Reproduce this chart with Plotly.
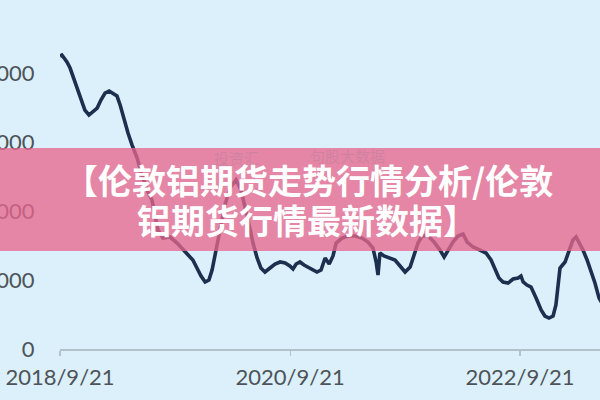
import plotly.graph_objects as go

# Data
dates = [
    "2018-09-21", "2018-09-27", "2018-10-04", "2018-10-13", "2018-10-23", "2018-11-08",
    "2018-11-24", "2018-12-09", "2018-12-22", "2019-01-04", "2019-01-17", "2019-01-29",
    "2019-02-11", "2019-02-24", "2019-03-08", "2019-03-21", "2019-03-31", "2019-04-12",
    "2019-04-25", "2019-05-08", "2019-05-24", "2019-06-08", "2019-06-27", "2019-07-10",
    "2019-07-20", "2019-07-29", "2019-08-14", "2019-09-05", "2019-09-28", "2019-10-17",
    "2019-11-02", "2019-11-17", "2019-11-30", "2019-12-13", "2019-12-26", "2020-01-07",
    "2020-01-17", "2020-01-26", "2020-02-05", "2020-02-14", "2020-02-27", "2020-03-14",
    "2020-04-02", "2020-04-18", "2020-05-04", "2020-05-16", "2020-05-26", "2020-06-08",
    "2020-06-20", "2020-07-03", "2020-07-19", "2020-08-04", "2020-08-20", "2020-09-05",
    "2020-09-20", "2020-09-30", "2020-10-10", "2020-10-22", "2020-11-04", "2020-11-17",
    "2020-12-03", "2020-12-15", "2020-12-28", "2021-01-10", "2021-01-23", "2021-02-04",
    "2021-02-14", "2021-03-05", "2021-03-24", "2021-04-15", "2021-05-07", "2021-05-26",
    "2021-06-11", "2021-06-21", "2021-06-27", "2021-07-03", "2021-07-16", "2021-08-01",
    "2021-08-20", "2021-09-05", "2021-09-21", "2021-10-07", "2021-10-19", "2021-11-01",
    "2021-11-14", "2021-12-03", "2021-12-22", "2022-01-10", "2022-01-23", "2022-02-04",
    "2022-02-20", "2022-03-08", "2022-03-24", "2022-04-06", "2022-04-25", "2022-05-17",
    "2022-06-05", "2022-06-21", "2022-07-04", "2022-07-16", "2022-07-29", "2022-08-14",
    "2022-08-30", "2022-09-15", "2022-09-24", "2022-10-01", "2022-10-13", "2022-10-26",
    "2022-11-11", "2022-11-27", "2022-12-09", "2022-12-22", "2023-01-04", "2023-01-13",
    "2023-01-20", "2023-01-26", "2023-02-11", "2023-02-24", "2023-03-08", "2023-03-18",
    "2023-03-27", "2023-04-09", "2023-04-22", "2023-05-04", "2023-05-17", "2023-05-30",
    "2023-06-12",
]
values = [
    4246, 4260, 4217, 4159, 4072, 3855,
    3637, 3463, 3391, 3449, 3492, 3608,
    3710, 3739, 3710, 3666, 3536, 3318,
    3130, 2956, 2768, 2521, 2275, 2159,
    1942, 1724, 1608, 1623, 1536, 1434,
    1362, 1290, 1174, 1058, 971, 1000,
    1145, 1362, 1579, 1797, 2087, 2333,
    2449, 2304, 2014, 1753, 1536, 1319,
    1174, 1116, 1174, 1232, 1261, 1246,
    1203, 1159, 1232, 1261, 1217, 1188,
    1145, 1116, 1145, 1319, 1232, 1348,
    1536, 1608, 1637, 1637, 1608, 1550,
    1463, 1261, 1072, 1391, 1348, 1319,
    1290, 1203, 1116, 1188, 1362, 1536,
    1637, 1637, 1550, 1434, 1333, 1434,
    1550, 1637, 1666, 1550, 1478, 1434,
    1391, 1290, 1145, 1029, 971, 956,
    1014, 1029, 1058, 971, 927, 898,
    739, 565, 478, 449, 478, 638,
    927, 1174, 1261, 1434, 1579, 1623,
    1550, 1434, 1290, 1145, 956, 739,
    638,
]
x_tick_vals = ["2018-09-21", "2020-09-21", "2022-09-21"]
x_tick_text = ["2018/9/21", "2020/9/21", "2022/9/21"]
y_tick_vals = [0, 1000, 2000, 3000, 4000, 5000]
y_tick_text = ["0", "1000", "2000", "3000", "4000", "5000"]
title_line1 = "【伦敦铝期货走势行情分析/伦敦"
title_line2 = "铝期货行情最新数据】"

BG = "#dcf0fb"
W, H = 600, 400
ML, MR, MT, MB = 60, 0, 0, 51
PW, PH = W - ML - MR, H - MT - MB


def px_x(p):
    return (p - ML) / PW


def px_y(p):
    return (H - MB - p) / PH


fig = go.Figure()
fig.add_trace(go.Scatter(
    x=dates, y=values, mode="lines",
    line=dict(color="#1c2f4f", width=3.6),
    hoverinfo="skip", showlegend=False,
))

fig.update_layout(
    template="none",
    width=W, height=H,
    margin=dict(l=ML, r=MR, t=MT, b=MB, pad=0),
    paper_bgcolor=BG, plot_bgcolor=BG,
    font=dict(family="Lato, 'DejaVu Sans', sans-serif", color="#4d5358"),
    xaxis=dict(
        type="date",
        range=["2018-09-21", "2023-06-02"],
        tickmode="array", tickvals=x_tick_vals, ticktext=x_tick_text,
        ticks="outside", ticklen=5, tickwidth=1.2, tickcolor="#b3c1ca",
        ticklabelstandoff=3,
        showline=True, linecolor="#b3c1ca", linewidth=1.6,
        showgrid=False, zeroline=False, automargin=False,
        tickfont=dict(size=22, color="#4d5358"),
    ),
    yaxis=dict(
        range=[0, 5058],
        tickmode="array", tickvals=y_tick_vals, ticktext=y_tick_text,
        ticks="outside", ticklen=20, tickcolor="rgba(0,0,0,0)",
        showline=False, showgrid=False, zeroline=False, automargin=False,
        tickfont=dict(size=22, color="#4d5358"),
    ),
    shapes=[
        dict(type="rect", xref="paper", yref="paper", layer="above",
             x0=px_x(0), x1=px_x(W), y0=px_y(251), y1=px_y(148),
             fillcolor="rgba(232,102,140,0.77)", line=dict(width=0)),
    ],
    annotations=[
        dict(text="投资汇", xref="paper", yref="paper", x=px_x(212), y=px_y(157),
             xanchor="left", yanchor="middle", showarrow=False,
             font=dict(family="Noto Sans CJK SC", size=15, color="rgba(165,125,145,0.35)")),
        dict(text="句股大数据", xref="paper", yref="paper", x=px_x(308), y=px_y(155),
             xanchor="left", yanchor="middle", showarrow=False,
             font=dict(family="Noto Sans CJK SC", size=15, color="rgba(165,125,145,0.35)")),
        dict(text="<b>" + title_line1 + "</b>", xref="paper", yref="paper",
             x=px_x(62), y=px_y(179), xanchor="left", yanchor="middle", showarrow=False,
             font=dict(family="Noto Sans CJK SC", size=34, color="white")),
        dict(text="<b>" + title_line2 + "</b>", xref="paper", yref="paper",
             x=px_x(135), y=px_y(219), xanchor="left", yanchor="middle", showarrow=False,
             font=dict(family="Noto Sans CJK SC", size=34, color="white")),
    ],
)

fig.write_html(
    "out.html",
    config={"displayModeBar": False, "staticPlot": True},
    post_script="document.body.style.margin='0';document.body.style.overflow='hidden';",
)
